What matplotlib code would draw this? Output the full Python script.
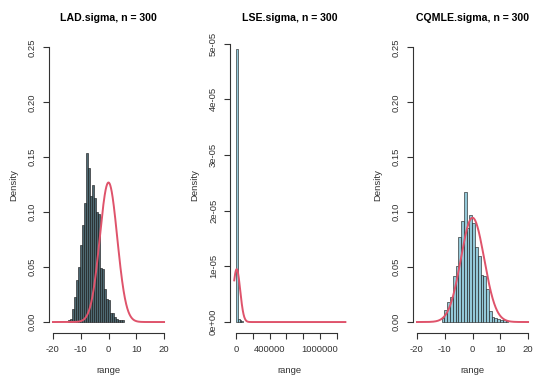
import numpy as np
import matplotlib
matplotlib.use("Agg")
import matplotlib.pyplot as plt

plt.rcParams['font.family'] = ['Liberation Sans', 'DejaVu Sans']

# panel titles
titles = ["LAD.sigma, n = 300", "LSE.sigma, n = 300", "CQMLE.sigma, n = 300"]

# LAD histogram (density), bins of width 0.72 starting at -14.5
lad_start = -14.5
lad_width = 0.72
lad_heights = [0.0015, 0.003, 0.012, 0.023, 0.038, 0.050, 0.070, 0.088, 0.108, 0.154,
               0.140, 0.115, 0.125, 0.113, 0.100, 0.098, 0.049, 0.048, 0.030, 0.021,
               0.020, 0.008, 0.008, 0.005, 0.003, 0.002, 0.002, 0.002]

# LSE histogram (density), bins of width 20000 starting at 0
lse_start = 0
lse_width = 20000
lse_heights = [4.91e-05, 5.0e-07, 3.3e-07, 1.7e-07]

# CQMLE histogram (density), bins of width 1 starting at -11.1
cq_start = -11.1
cq_width = 1.0
cq_heights = [0.004, 0.011, 0.018, 0.023, 0.042, 0.051, 0.077, 0.092, 0.118, 0.086,
              0.097, 0.090, 0.068, 0.060, 0.043, 0.042, 0.030, 0.010, 0.005, 0.004,
              0.003, 0.002, 0.0015, 0.001]

# normal reference curves (mean, sd, from, to)
lad_curve = (0.0, 3.14, -20, 20)
lse_curve = (5000.0, 42000.0, -24000, 1305000)
cq_curve = (0.0, 4.2, -20, 20)

red = "#DF536B"
dark = "#4E6972"
light = "#93C8D8"
txt = "#333333"

fig = plt.figure(figsize=(5.42, 3.82), dpi=100)
W, H = 542, 382
top_px, bot_px = 36.5, 333
lefts = [48.5, 229.8, 412.5]
axes = [fig.add_axes([l / W, (H - bot_px) / H, 120 / W, (bot_px - top_px) / H]) for l in lefts]


def normal(params):
    mu, sd, a, b = params
    xs = np.linspace(a, b, 600)
    return xs, np.exp(-0.5 * ((xs - mu) / sd) ** 2) / (sd * np.sqrt(2 * np.pi))


def hist_bars(ax, start, width, heights, color):
    lefts_ = [start + i * width for i in range(len(heights))]
    ax.bar(lefts_, heights, width=width, align='edge', color=color,
           edgecolor='#111111', linewidth=0.4)


def style(ax, xlim, ylim, xb, yb, xticks, xlabels, yticks, ylabels, title):
    ax.set_xlim(*xlim)
    ax.set_ylim(*ylim)
    for s in ['top', 'right']:
        ax.spines[s].set_visible(False)
    ax.spines['left'].set_bounds(*yb)
    ax.spines['bottom'].set_bounds(*xb)
    for s in ['left', 'bottom']:
        ax.spines[s].set_linewidth(0.8)
        ax.spines[s].set_color(txt)
    ax.set_xticks(xticks)
    ax.set_xticklabels(xlabels)
    ax.set_yticks(yticks)
    ax.set_yticklabels(ylabels, rotation=90, va='center')
    ax.tick_params(axis='both', length=4, width=0.8, color=txt, labelsize=6.8, labelcolor=txt, pad=4.5)
    ax.set_xlabel("range", fontsize=6.8, color=txt, labelpad=9)
    ax.set_ylabel("Density", fontsize=6.8, color=txt, labelpad=7)
    ax.set_title(title, fontsize=7.6, fontweight='bold', pad=11)
    ax.patch.set_visible(False)


# panel 1
ax = axes[0]
hist_bars(ax, lad_start, lad_width, lad_heights, dark)
xs, ys = normal(lad_curve)
ax.plot(xs, ys, color=red, linewidth=1.4)
yt = [0, 0.05, 0.10, 0.15, 0.20, 0.25]
style(ax, (-21.6, 21.6), (-0.01, 0.26), (-20, 20), (0, 0.25),
      [-20, -10, 0, 10, 20], ["-20", "-10", "0", "10", "20"],
      yt, ["%.2f" % v for v in yt], titles[0])

# panel 2
ax = axes[1]
hist_bars(ax, lse_start, lse_width, lse_heights, light)
xs, ys = normal(lse_curve)
ax.plot(xs, ys, color=red, linewidth=1.4)
xt = [0, 200000, 400000, 600000, 800000, 1000000, 1200000]
xl = ["0", "", "400000", "", "", "1000000", ""]
yt2 = [0, 1e-05, 2e-05, 3e-05, 4e-05, 5e-05]
yl2 = ["0e+00", "1e-05", "2e-05", "3e-05", "4e-05", "5e-05"]
style(ax, (-77000, 1358000), (-1.97e-06, 5.13e-05), (0, 1200000), (0, 5e-05),
      xt, xl, yt2, yl2, titles[1])

# panel 3
ax = axes[2]
hist_bars(ax, cq_start, cq_width, cq_heights, light)
xs, ys = normal(cq_curve)
ax.plot(xs, ys, color=red, linewidth=1.4)
style(ax, (-21.6, 21.6), (-0.01, 0.26), (-20, 20), (0, 0.25),
      [-20, -10, 0, 10, 20], ["-20", "-10", "0", "10", "20"],
      yt, ["%.2f" % v for v in yt], titles[2])

fig.savefig("out.png", dpi=100)
